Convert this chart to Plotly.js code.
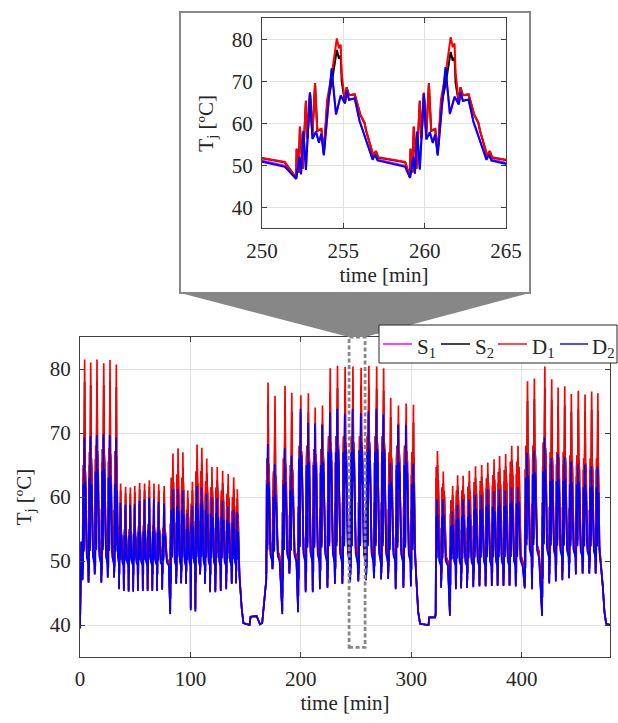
<!DOCTYPE html>
<html><head><meta charset="utf-8">
<script src="https://cdn.plot.ly/plotly-3.0.1.min.js"></script>
<style>html,body{margin:0;padding:0;background:#fff;overflow:hidden;width:618px;height:723px;}#chart{width:618px;height:723px;overflow:hidden;}</style>
</head><body><div id="chart"></div>
<script>
// ---------------- data ----------------
// time of each cycle's main D1 peak [min]
const pkT = [
 4.2, 9.7, 15.4, 21.5, 27.2, 32.9,
 36.8, 41.3, 45.6, 49.6, 54, 58.5, 62.8, 67, 71.3, 76.2,
 84.2, 88.8, 93.2, 97.6, 101.8, 106, 110.3, 114.8, 119.5, 124.3, 129.2, 134.2, 139.2, 142.5,
 170.3, 176.6, 185.7, 191.8, 200, 206.8, 213, 219.6, 226.6, 233.2, 240.1, 247.2, 254.6, 261.6, 268.7, 275, 281.4, 288.4, 295.4, 302,
 323.7, 329, 337.5, 342, 347, 352.6, 358.2, 363.8, 369.3, 375, 380, 385.5, 391, 396.7,
 405.3, 411.5, 421, 427.2, 433, 439, 445, 451.3, 457.4, 463.4, 469
];
// peak junction temperature of each cycle
const d1Pk = [
 81.5, 81, 81.5, 80.9, 81.4, 80.7,
 62.1, 61.6, 61.5, 61.7, 62.2, 62.1, 62.6, 62.1, 62, 61.7,
 66.8, 67.6, 67, 61, 62.4, 68.2, 67.7, 66, 64.7, 64.7, 64.1, 63.6, 63.1, 61.2,
 77.9, 75.8, 77.4, 76.3, 75.9, 76.2, 74, 74.3, 80.1, 80.5, 80.3, 80.4, 80.2, 80.5, 80.4, 80.1, 75.5, 74.3, 74.6, 74.4,
 67.2, 64, 61.7, 63.4, 63.3, 64.1, 64.8, 65, 65.4, 65.9, 66.4, 66.7, 68, 68,
 78.1, 78.5, 80.4, 78.4, 77.1, 77.3, 76.1, 76.6, 76, 76.5, 76.2
];
const d2Pk = [
 69.3, 69.5, 69.7, 69.8, 69.7, 69.3,
 59.1, 58.8, 58.8, 58.9, 59.4, 59.6, 59.9, 59.6, 59.2, 59,
 61.2, 61.3, 61, 57.5, 58.6, 61.7, 61.5, 60.5, 60, 59.9, 59.4, 58.5, 58, 57.6,
 68.3, 65.1, 67.6, 66.5, 73.8, 71.6, 71.5, 71.3, 73.2, 73.8, 73, 73.8, 73.1, 73.4, 73.8, 72.9, 65.4, 71.3, 71.3, 65.2,
 59.6, 59.6, 57.8, 58.8, 59.6, 59.6, 60.4, 60.3, 61.2, 60.9, 61.2, 61, 61.5, 61.5,
 66.9, 67.3, 69.3, 66.1, 66.7, 66.3, 65.5, 65.2, 65.1, 64.8, 64.8
];
const s2Pk = [
 78, 77.5, 78, 77.5, 78, 77.2,
 61, 60.6, 60.5, 60.7, 61.2, 61.1, 61.6, 61.1, 61, 60.7,
 64.5, 65.2, 64.6, 59.8, 61, 65.8, 65.3, 63.8, 62.7, 62.7, 62.2, 61.8, 61.3, 59.8,
 74.6, 72.8, 74.2, 73.3, 73, 73.2, 71.2, 71.5, 76.5, 77, 76.8, 76.9, 77.5, 77, 76.9, 76.6, 72.5, 71.5, 71.8, 71.6,
 65, 62.2, 60.3, 61.8, 61.7, 62.4, 63, 63.2, 63.6, 64, 64.5, 64.8, 65.8, 65.8,
 75, 75.3, 77, 75.2, 74.1, 74.3, 73.3, 73.7, 73.2, 73.6, 73.4
];
const s1Pk = [
 68.8, 69, 69.2, 69.3, 69.2, 68.8,
 58.6, 58.3, 58.3, 58.4, 58.9, 59.1, 59.4, 59.1, 58.7, 58.5,
 60.7, 60.8, 60.5, 57, 58.1, 61.2, 61, 60, 59.5, 59.4, 58.9, 58, 57.5, 57.1,
 67.8, 64.6, 67.1, 66, 73.3, 71.1, 71, 70.8, 72.7, 73.3, 72.5, 73.3, 72.6, 72.9, 73.3, 72.4, 64.9, 70.8, 70.8, 64.7,
 59.1, 59.1, 57.3, 58.3, 59.1, 59.1, 59.9, 59.8, 60.7, 60.4, 60.7, 60.5, 61, 61,
 66.4, 66.8, 68.8, 65.6, 66.2, 65.8, 65, 64.7, 64.6, 64.3, 64.3
];
// highest secondary spike of each cycle
const d1Sec = [
 65, 67, 68, 67.5, 67.6, 67.2,
 55.5, 55, 55, 55.2, 55.5, 55.6, 55.8, 55.6, 55.4, 55.2,
 63, 63.5, 63, 58, 59, 64, 64, 62.5, 61.5, 61.5, 61, 60.5, 60, 58.5,
 66, 64, 66, 65, 68, 68, 67.5, 67.5, 69.5, 69.5, 69.5, 69.5, 69.5, 69.5, 69.5, 69.5, 67, 68, 68, 67,
 64.7, 61.5, 59.5, 61, 61, 61.6, 62.3, 62.5, 62.9, 63.4, 63.9, 64.2, 65.5, 65.5,
 68, 68, 68.5, 67, 67, 67, 66.5, 66.5, 66, 66, 66
];
const d2Sec = [
 62, 63, 64, 64, 63, 62,
 54.5, 54, 54, 54.2, 54.5, 54.6, 54.8, 54.6, 54.4, 54.2,
 58, 58.5, 58, 55, 56, 59, 59, 58, 57.5, 57.5, 57, 56.5, 56, 55,
 62, 60, 62, 61, 66, 65, 65, 65, 67, 67, 67, 67, 67.3, 67, 67, 67, 62, 65, 65, 62,
 57, 57, 55.5, 56.5, 57, 57, 58, 58, 58.5, 58.5, 58.5, 58.5, 59, 59,
 63, 63.5, 64, 62.5, 62.5, 62.5, 62, 62, 61.5, 61.5, 61.5
];
// trough before each cycle
const loV = [
 47, 46.6, 47.9, 46.6, 47.4, 47.4,
 45.6, 45.3, 45.2, 45.2, 45.3, 45.3, 45.3, 45.3, 45.3, 45.5,
 41.7, 46.4, 46.5, 46.4, 42.3, 42.1, 47.9, 46.4, 45.1, 45.1, 45.3, 45.6, 46.4, 46.5,
 47, 48.7, 41.7, 48, 42, 45.1, 45.1, 45.6, 45.8, 46.4, 46.4, 46.7, 46.8, 47, 47.3, 47.1, 47.2, 45.6, 45.8, 46,
 41.5, 45.8, 41.4, 45.6, 45.7, 45.8, 45.9, 46, 46, 46.1, 46.1, 46.1, 46.1, 46,
 45.7, 45.6, 41.4, 46.5, 46.8, 47, 47.3, 47.9, 48, 48, 48
];
// level between spikes of each cycle
const baseV = [
 50, 50, 50, 50, 50, 50,
 49.5, 49.5, 49.5, 49.5, 49.5, 49.5, 49.5, 49.5, 49.5, 49.5,
 49.5, 49.5, 49.5, 49.5, 49.5, 49.5, 49.5, 49.5, 49.5, 49.5, 49.5, 49.5, 49.5, 49.5,
 50.3, 50.3, 50.3, 50.3, 50.3, 50.3, 50.3, 50.3, 50.3, 50.3, 50.3, 50.3, 50.3, 50.3, 50.3, 50.3, 50.3, 50.3, 50.3, 50.3,
 49.5, 49.5, 49.5, 49.5, 49.5, 49.5, 49.5, 49.5, 49.5, 49.5, 49.5, 49.5, 49.5, 49.5,
 51, 51, 51, 51, 51, 51, 51, 51, 51, 51, 51
];
// idle (rest) segments
const restT = [0, 0.5, 1.2, 1.7, 144.5, 146.5, 148, 153.5, 154.5, 160, 161.5, 163, 165, 166.8,
               304.8, 306.3, 308, 315.6, 316.3, 321.6, 473.5, 475, 476.5, 480];
const restV = [39.5, 45, 53, 50, 47.5, 42.5, 40.3, 40, 41.3, 41.4, 40.8, 40.1, 40.3, 43.5,
               46.5, 42, 40.2, 40, 41.2, 41.2, 46, 42, 40.2, 40];
const xTicks = [0, 100, 200, 300, 400];
const yTicks = [40, 50, 60, 70, 80];
const xTicksInset = [250, 255, 260, 265];
const seriesNames = ['S<sub>1</sub>', 'S<sub>2</sub>', 'D<sub>1</sub>', 'D<sub>2</sub>'];
const zoomWin = [243.7, 258.2];

// ---------------- cycle waveform (shape of one cycle, from the inset) ----------------
// [offset (min, for a 7-min cycle), kind, weight]  l: trough->base, m: base->secondary, q: base->peak
const shapeBlue = [
 [-2.5,'l',0],[-2.3,'m',0.1],[-2.2,'l',0.3],[-2.06,'m',0.46],[-1.9,'l',0.6],[-1.65,'m',1],
 [-1.5,'m',0.35],[-1.28,'m',0.45],[-1.1,'m',0.3],[-0.95,'m',0.42],[-0.8,'m',0.12],
 [-0.52,'q',0.63],[-0.32,'q',1],[-0.05,'q',0.52],[0.24,'m',0.96],[0.5,'m',0.85],[0.6,'m',1.03],
 [0.75,'m',0.9],[1.1,'m',0.92],[1.4,'m',0.6],[2.2,'m',0.06],[2.35,'m',0.13],[2.5,'m',0.05],[4.2,'m',-0.04]
];
const shapeRed = [
 [-2.5,'l',0.05],[-2.47,'m',0.17],[-2.35,'l',0.35],[-2.27,'m',0.45],[-2.1,'l',0.6],[-1.9,'m',0.78],
 [-1.8,'m',0.3],[-1.65,'m',0.88],[-1.5,'m',0.35],[-1.34,'m',1],[-1.2,'m',0.4],[-0.95,'m',0.42],
 [-0.8,'m',0.12],[-0.6,'q',0.5],[-0.3,'q',0.72],[0,'q',1],[0.13,'q',0.92],[0.24,'q',0.95],
 [0.3,'q',0.72],[0.5,'m',0.75],[0.6,'m',0.95],[0.75,'m',0.85],[1.1,'m',0.86],[1.45,'m',0.6],
 [1.7,'m',0.5],[1.8,'m',0.4],[2.25,'m',0.08],[2.4,'m',0.14],[2.55,'m',0.06],[4.2,'m',0]
];

function build(shape, pkArr, secArr, baseShift) {
  const pts = [];
  for (let i = 0; i < restT.length; i++) pts.push([restT[i], restV[i]]);
  for (let i = 0; i < pkT.length; i++) {
    const t = pkT[i];
    const prev = i > 0 ? t - pkT[i-1] : 5.5;
    const next = i < pkT.length - 1 ? pkT[i+1] - t : 99;
    const farNext = next > 12;
    const sb = (prev > 12 ? 4.5 : Math.min(prev, 7)) / 7;
    const sa = (farNext ? 4 : Math.min(next, 7)) / 7;
    const base = baseV[i] + baseShift, lo = loV[i], pk = pkArr[i], sec = secArr[i];
    for (const [o, k, f] of shape) {
      if (farNext && o > 3) continue;
      const tt = t + o * (o < 0 ? sb : sa);
      let v;
      if (k === 'l') v = lo + f * (base - lo);
      else if (k === 'm') v = base + f * (sec - base);
      else v = base + f * (pk - base);
      pts.push([tt, v]);
    }
  }
  pts.sort((a, b) => a[0] - b[0]);
  return {x: pts.map(p => p[0]), y: pts.map(p => p[1])};
}

const S1 = build(shapeBlue, s1Pk, d2Sec, 0.25);
const S2 = build(shapeRed, s2Pk, d1Sec, 0.4);
const D1 = build(shapeRed, d1Pk, d1Sec, 0.5);
const D2 = build(shapeBlue, d2Pk, d2Sec, 0);
const colors = ['#ff00ff', '#000000', '#ff0000', '#0000ff'];
const legendColors = ['#ff44ff', '#444444', '#ff4d4d', '#4d4dff'];
const series = [S1, S2, D1, D2];

const traces = [];
series.forEach((s, k) => traces.push({type:'scatter', mode:'lines', x:s.x, y:s.y, name:seriesNames[k],
  line:{color:colors[k], width:1.7}, xaxis:'x', yaxis:'y', hoverinfo:'skip', showlegend:false}));
series.forEach((s, k) => traces.push({type:'scatter', mode:'lines', x:s.x, y:s.y, name:seriesNames[k],
  line:{color:colors[k], width:2}, xaxis:'x2', yaxis:'y2', showlegend:false, hoverinfo:'skip'}));

// ---------------- layout ----------------
const W = 618, H = 723;
const px = v => v / W, py = v => 1 - v / H;
const FONT = '"Liberation Serif", "Times New Roman", Times, serif';
const TXT = '#262626';
function ax(extra) {
  return Object.assign({
    showline:true, linecolor:'#404040', linewidth:1, mirror:'ticks', ticks:'inside', ticklen:5,
    tickcolor:'#404040', showgrid:true, gridcolor:'#e2e2e2', gridwidth:1, zeroline:false,
    tickfont:{family:FONT, size:21, color:TXT}, automargin:false, fixedrange:true
  }, extra);
}
const titleFont = {family:FONT, size:21, color:TXT};
const gray = '#878787';

// legend drawn as a box with line samples and labels (placement in pixels)
const legBox = {x0:379, x1:617, y0:325, y1:363};
const legLineX = [[383, 412], [441, 470], [498, 527], [560, 588]];
const legTextX = [415, 473, 530, 590];
const legY = 344;
const shapes = [
  {type:'rect', xref:'paper', yref:'paper', x0:px(180), x1:px(530), y0:py(293), y1:py(12),
   line:{color:gray, width:2}, fillcolor:'rgba(0,0,0,0)', layer:'below'},
  {type:'path', xref:'paper', yref:'paper', layer:'above', fillcolor:gray, line:{width:0},
   path:`M ${px(178.3)} ${py(292.5)} L ${px(531.7)} ${py(292.5)} L ${px(365)} ${py(337)} L ${px(349)} ${py(337)} Z`},
  {type:'rect', xref:'x', yref:'y', x0:zoomWin[0], x1:zoomWin[1], y0:36.5, y1:85, layer:'above',
   line:{color:gray, width:2.8, dash:'4px,2.5px'}, fillcolor:'rgba(0,0,0,0)'},
  {type:'rect', xref:'paper', yref:'paper', x0:px(legBox.x0), x1:px(legBox.x1), y0:py(legBox.y1), y1:py(legBox.y0),
   line:{color:'#262626', width:1}, fillcolor:'#ffffff', layer:'above'}
];
const annotations = [];
seriesNames.forEach((n, k) => {
  shapes.push({type:'line', xref:'paper', yref:'paper', x0:px(legLineX[k][0]), x1:px(legLineX[k][1]),
    y0:py(legY), y1:py(legY), line:{color:legendColors[k], width:2}, layer:'above'});
  annotations.push({xref:'paper', yref:'paper', x:px(legTextX[k]), y:py(legY + 4), xanchor:'left', yanchor:'middle',
    text:n, showarrow:false, font:{family:FONT, size:21, color:TXT}});
});

const layout = {
  width:W, height:H, margin:{l:0, r:0, t:0, b:0}, paper_bgcolor:'#fff', plot_bgcolor:'#fff',
  font:{family:FONT, size:21, color:TXT},
  showlegend:false,
  xaxis: ax({domain:[px(80), px(610)], range:[0, 480], tickvals:xTicks, anchor:'y',
    ticklabelstandoff:3, title:{text:'time [min]', font:titleFont, standoff:5}}),
  yaxis: ax({domain:[py(657), py(337)], range:[35, 85], tickvals:yTicks, anchor:'x',
    ticklabelstandoff:4, title:{text:'T<sub>j</sub> [ºC]', font:titleFont, standoff:12}}),
  xaxis2: ax({domain:[px(262), px(506)], range:[250, 265], tickvals:xTicksInset, anchor:'y2',
    ticklabelstandoff:3, title:{text:'time [min]', font:titleFont, standoff:5}}),
  yaxis2: ax({domain:[py(228.3), py(18.3)], range:[35, 85], tickvals:yTicks, anchor:'x2',
    ticklabelstandoff:4, title:{text:'T<sub>j</sub> [ºC]', font:titleFont, standoff:12}}),
  shapes: shapes,
  annotations: annotations
};
Plotly.newPlot('chart', traces, layout, {displayModeBar:false, staticPlot:true});
</script></body></html>
